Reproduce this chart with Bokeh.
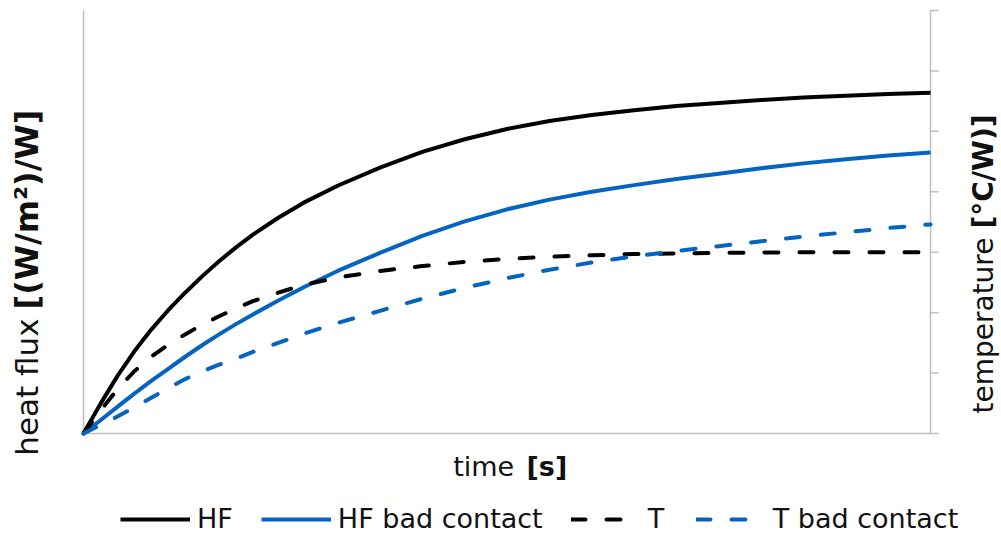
import math
from bokeh.plotting import figure
from bokeh.models import Range1d, Legend, LegendItem, Label
from bokeh.embed import file_html
from bokeh.resources import INLINE

# ---- data ----
time = [0, 2, 4, 6, 8, 10, 12, 14, 16, 18, 20, 23, 26, 30, 35, 40, 45, 50, 55, 60, 65, 70,
        75, 80, 85, 90, 95, 100]
hf = [0, 0.49, 0.95, 1.36, 1.72, 2.04, 2.33, 2.6, 2.85, 3.08, 3.29, 3.57, 3.82, 4.1, 4.4, 4.66,
      4.87, 5.04, 5.17, 5.27, 5.35, 5.42, 5.47, 5.52, 5.56, 5.59, 5.62, 5.64]
hf_bad = [0, 0.22, 0.44, 0.66, 0.87, 1.07, 1.27, 1.46, 1.64, 1.81, 1.97, 2.2, 2.42, 2.69, 2.99,
          3.27, 3.51, 3.71, 3.87, 4.0, 4.11, 4.21, 4.3, 4.39, 4.47, 4.54, 4.6, 4.65]
t = [0, 0.38, 0.73, 1.03, 1.27, 1.47, 1.64, 1.8, 1.94, 2.07, 2.19, 2.33, 2.46, 2.58, 2.69, 2.77,
     2.84, 2.89, 2.925, 2.95, 2.97, 2.98, 2.99, 2.995, 3.0, 3.0, 3.0, 3.0]
t_bad = [0, 0.14, 0.28, 0.43, 0.59, 0.75, 0.9, 1.03, 1.14, 1.24, 1.35, 1.5, 1.65, 1.83, 2.03,
         2.23, 2.41, 2.57, 2.71, 2.83, 2.93, 3.02, 3.1, 3.18, 3.26, 3.33, 3.4, 3.46]
right_ticks = [0, 1, 2, 3, 4, 5, 6, 7]
series_names = ["HF", "HF bad contact", "T", "T bad contact"]

BLACK = "#000000"
BLUE = "#0563C1"
GRAY = "#BFBFBF"
TXT = "#111111"
FONT = "DejaVu Sans"

W, H = 1001, 533
# plot area spans x 0..100 and y 0..7; the canvas around it holds the axis titles and legend
p = figure(width=W, height=H, output_backend="svg", toolbar_location=None,
           x_range=Range1d(-9.8, 108.38), y_range=Range1d(-1.655, 7.1655),
           x_axis_location=None, y_axis_location=None,
           min_border=0, min_border_left=0, min_border_right=0,
           min_border_top=0, min_border_bottom=0)
p.extra_y_ranges = {"temp": Range1d(-1.655, 7.1655)}
p.grid.visible = False
p.outline_line_color = None

X0, X1, Y0, Y1 = 0, 100, 0, 7
tick_len = 8 / 8.47
# axis lines (left, bottom, right) and right-axis ticks
p.segment(x0=[X0, X0, X1], y0=[Y0, Y0, Y0], x1=[X0, X1, X1], y1=[Y1, Y0, Y1],
          line_color=GRAY, line_width=1.5)
p.segment(x0=[X1] * len(right_ticks), y0=right_ticks,
          x1=[X1 + tick_len] * len(right_ticks), y1=right_ticks,
          line_color=GRAY, line_width=1.5, y_range_name="temp")

r1 = p.line(time, hf, line_color=BLACK, line_width=4)
r2 = p.line(time, hf_bad, line_color=BLUE, line_width=4)
r3 = p.line(time, t, line_color=BLACK, line_width=4, line_dash="14 21", line_cap="round",
            y_range_name="temp")
r4 = p.line(time, t_bad, line_color=BLUE, line_width=4, line_dash="14 21", line_cap="round",
            y_range_name="temp")

legend = Legend(items=[LegendItem(label=n, renderers=[r]) for n, r in zip(series_names, [r1, r2, r3, r4])],
                orientation="horizontal", location=(120, -1),
                glyph_width=70, glyph_height=20, label_standoff=7, spacing=28,
                padding=0, margin=0, border_line_alpha=0, background_fill_alpha=0,
                label_text_font=FONT, label_text_font_size="27px", label_text_color=TXT)
p.add_layout(legend)

def lab(x, y, text, size, bold=False, angle=0.0, align="left"):
    p.add_layout(Label(x=x, y=y, text=text, angle=angle, text_align=align,
                       text_baseline="middle", text_font=FONT, text_font_size=size,
                       text_color=TXT, text_font_style="bold" if bold else "normal"))

# x axis title
lab(50.85, -0.546, "time", "27px", align="right")
lab(52.3, -0.546, "[s]", "27px", bold=True)
# left axis title
lab(-6.67, 1.903, "heat flux", "31px", angle=math.pi / 2, align="right")
lab(-6.67, 2.052, "[(W/m²)/W]", "32px", bold=True, angle=math.pi / 2)
# right axis title
lab(106.26, 3.243, "temperature", "28px", angle=math.pi / 2, align="right")
lab(106.26, 3.392, "[°C/W)]", "28px", bold=True, angle=math.pi / 2)

open("out.html", "w").write(file_html(p, INLINE))
